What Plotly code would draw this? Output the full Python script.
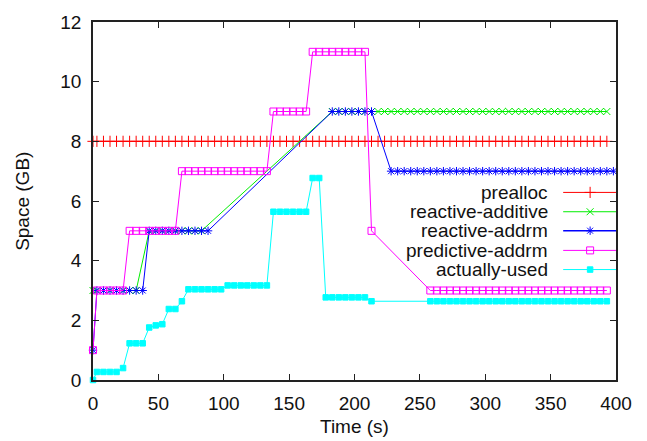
import plotly.graph_objects as go

# ---------------- data ----------------
time_s = [0,
    3, 8, 13, 18, 23, 28, 33, 38, 43, 48,
    53, 58, 63, 68, 73, 78, 83, 88, 93, 98,
    103, 108, 113, 118, 123, 128, 133, 138, 143, 148,
    153, 158, 163, 168, 173, 178, 183, 188, 193, 198,
    203, 208, 213, 218, 223, 228, 233, 238, 243, 248,
    253, 258, 263, 268, 273, 278, 283, 288, 293, 298,
    303, 308, 313, 318, 323, 328, 333, 338, 343, 348,
    353, 358, 363, 368, 373, 378, 383, 388, 393, 398]

N = None
prealloc = [8,
    8, 8, 8, 8, 8, 8, 8, 8, 8, 8,
    8, 8, 8, 8, 8, 8, 8, 8, 8, 8,
    8, 8, 8, 8, 8, 8, 8, 8, 8, 8,
    8, 8, 8, 8, 8, 8, 8, 8, 8, 8,
    8, 8, 8, 8, 8, 8, 8, 8, 8, 8,
    8, 8, 8, 8, 8, 8, 8, 8, 8, 8,
    8, 8, 8, 8, 8, 8, 8, 8, 8, 8,
    8, 8, 8, 8, 8, 8, 8, 8, 8, N]

reactive_additive = [3,
    3, 3, 3, 3, 3, 3, 3, N, 5, 5,
    5, 5, 5, 5, 5, 5, 5, N, N, N,
    N, N, N, N, N, N, N, N, N, N,
    N, N, N, N, N, N, 9, 9, 9, 9,
    9, 9, 9, 9, 9, 9, 9, 9, 9, 9,
    9, 9, 9, 9, 9, 9, 9, 9, 9, 9,
    9, 9, 9, 9, 9, 9, 9, 9, 9, 9,
    9, 9, 9, 9, 9, 9, 9, 9, 9, N]

reactive_addrm = [1,
    3, 3, 3, 3, 3, 3, 3, 3, 5, 5,
    5, 5, 5, 5, 5, 5, 5, 5, N, N,
    N, N, N, N, N, N, N, N, N, N,
    N, N, N, N, N, N, 9, 9, 9, 9,
    9, 9, 9, N, N, 7, 7, 7, 7, 7,
    7, 7, 7, 7, 7, 7, 7, 7, 7, 7,
    7, 7, 7, 7, 7, 7, 7, 7, 7, 7,
    7, 7, 7, 7, 7, 7, 7, 7, 7, 7]

predictive_addrm = [1,
    3, 3, 3, 3, 3, 5, 5, 5, 5, 5,
    5, 5, 5, 7, 7, 7, 7, 7, 7, 7,
    7, 7, 7, 7, 7, 7, 7, 9, 9, 9,
    9, 9, 9, 11, 11, 11, 11, 11, 11, 11,
    11, 11, 5, N, N, N, N, N, N, N,
    N, 3, 3, 3, 3, 3, 3, 3, 3, 3,
    3, 3, 3, 3, 3, 3, 3, 3, 3, 3,
    3, 3, 3, 3, 3, 3, 3, 3, 3, N]

actually_used = [0,
    0.27, 0.27, 0.27, 0.27, 0.40, 1.23, 1.23, 1.23, 1.76, 1.83,
    1.87, 2.38, 2.38, 2.64, 3.04, 3.04, 3.04, 3.04, 3.04, 3.04,
    3.17, 3.17, 3.17, 3.17, 3.17, 3.17, 3.17, 5.64, 5.64, 5.64,
    5.64, 5.64, 5.64, 6.77, 6.77, 2.77, 2.77, 2.77, 2.77, 2.77,
    2.77, 2.77, 2.64, N, N, N, N, N, N, N,
    N, 2.64, 2.64, 2.64, 2.64, 2.64, 2.64, 2.64, 2.64, 2.64,
    2.64, 2.64, 2.64, 2.64, 2.64, 2.64, 2.64, 2.64, 2.64, 2.64,
    2.64, 2.64, 2.64, 2.64, 2.64, 2.64, 2.64, 2.64, 2.64, N]

series_names = ["prealloc", "reactive-additive", "reactive-addrm",
                "predictive-addrm", "actually-used"]
series_values = [prealloc, reactive_additive, reactive_addrm,
                 predictive_addrm, actually_used]

x_ticks = [0, 50, 100, 150, 200, 250, 300, 350, 400]
y_ticks = [0, 2, 4, 6, 8, 10, 12]

# ---------------- styles ----------------
colors = ["#ff0000", "#00ee00", "#0000ff", "#ff00ff", "#00ffff"]
symbols = ["cross-thin-open", "x-thin-open", "asterisk-open",
           "square-open", "square"]
msizes = [8, 7, 7, 7, 5.5]
FONT = "Liberation Sans, Arial, Helvetica, sans-serif"
FS = 19

fig = go.Figure()
for name, vals, c, s, ms in zip(series_names, series_values, colors, symbols, msizes):
    fig.add_trace(go.Scatter(
        x=time_s, y=vals, name=name, mode="lines+markers",
        connectgaps=True, cliponaxis=False, showlegend=False,
        line=dict(color=c, width=1),
        marker=dict(symbol=s, size=ms, color=c, line=dict(color=c, width=1)),
    ))

# ---------------- gnuplot-style key (text right, sample on the right) ----------------
key_text_x = 0.874
key_line_x0, key_line_x1 = 0.899, 1.0
key_mark_x = 0.9505
key_rows = [0.524, 0.470, 0.417, 0.362, 0.3085]
for name, c, s, ms, yr in zip(series_names, colors, symbols, msizes, key_rows):
    fig.add_annotation(x=key_text_x, y=yr, xref="paper", yref="paper",
                       text=name, showarrow=False, xanchor="right", yanchor="middle",
                       font=dict(family=FONT, size=FS, color="#111"))
    fig.add_shape(type="line", xref="paper", yref="paper",
                  x0=key_line_x0, x1=key_line_x1, y0=yr, y1=yr,
                  line=dict(color=c, width=1.5 if c == "#0000ff" else 1))
    fig.add_trace(go.Scatter(
        x=[key_mark_x], y=[yr], xaxis="x2", yaxis="y2", mode="markers",
        showlegend=False, cliponaxis=False, hoverinfo="skip",
        marker=dict(symbol=s, size=ms, color=c, line=dict(color=c, width=1)),
    ))

axis_common = dict(
    ticks="inside", ticklen=6, tickwidth=1, tickcolor="#222",
    mirror="allticks", showline=True, linecolor="#222", linewidth=1.5,
    showgrid=False, zeroline=False,
    tickfont=dict(family=FONT, size=FS, color="#111"),
)

fig.update_layout(
    width=647, height=441,
    margin=dict(l=93, r=31, t=16, b=61),
    paper_bgcolor="white", plot_bgcolor="white",
    font=dict(family=FONT, size=FS, color="#111"),
    showlegend=False,
    xaxis=dict(range=[0, 400], tickvals=x_ticks, ticklabelstandoff=5, **axis_common),
    yaxis=dict(range=[0, 12], tickvals=y_ticks, ticklabelstandoff=6, **axis_common),
    xaxis2=dict(overlaying="x", range=[0, 1], visible=False),
    yaxis2=dict(overlaying="y", range=[0, 1], visible=False),
    annotations=list(fig.layout.annotations) + [
        dict(x=0.5, y=-0.129, xref="paper", yref="paper", text="Time (s)",
             showarrow=False, xanchor="center", yanchor="middle",
             font=dict(family=FONT, size=FS, color="#111")),
        dict(x=-0.136, y=0.5, xref="paper", yref="paper", text="Space (GB)",
             showarrow=False, xanchor="center", yanchor="middle", textangle=-90,
             font=dict(family=FONT, size=FS, color="#111")),
    ],
)

fig.write_html("out.html",
               config={"displayModeBar": False},
               post_script="document.body.style.margin='0';document.body.style.overflow='hidden';")
